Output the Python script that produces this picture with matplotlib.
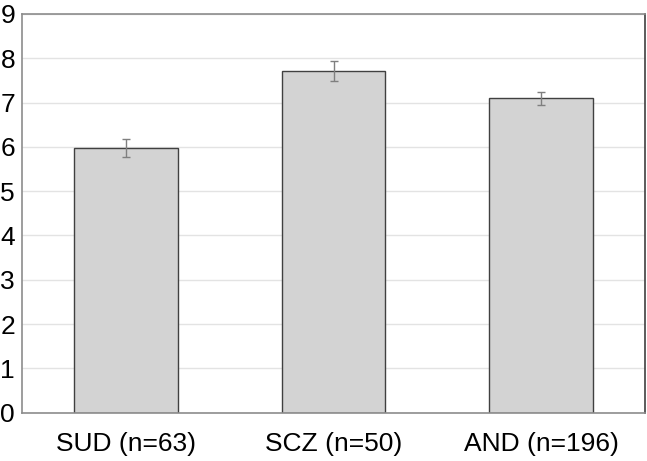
import matplotlib
matplotlib.use('Agg')
import matplotlib.pyplot as plt

# group labels, means and error half-widths
groups = ['SUD (n=63)', 'SCZ (n=50)', 'AND (n=196)']
means = [5.97, 7.72, 7.10]
errors = [0.20, 0.225, 0.15]

plt.rcParams['font.family'] = ['Liberation Sans', 'DejaVu Sans']

fig = plt.figure(figsize=(6.47, 4.61), dpi=100)
ax = fig.add_axes([22 / 647, 1 - 412.7 / 461, 623 / 647, 398.7 / 461])

xs = range(len(groups))
ax.bar(xs, means, width=0.5, color='#d3d3d3', edgecolor='#404040',
       linewidth=1.0, zorder=2)
ax.errorbar(xs, means, yerr=errors, fmt='none', ecolor='#7f7f7f',
            elinewidth=1.0, capsize=2.8, capthick=1.0, zorder=3)

ax.set_xlim(-0.5, 2.5)
ax.set_ylim(0, 9)
ax.set_yticks(range(10))
ax.set_xticks(list(xs))
ax.set_xticklabels(groups)
ax.yaxis.grid(True, color='#e3e3e3', linewidth=1.0, zorder=0)
ax.set_axisbelow(True)
ax.tick_params(axis='both', length=0, labelsize=19, colors='black')
ax.tick_params(axis='y', pad=5)
ax.tick_params(axis='x', pad=14)

for side in ['left', 'bottom', 'top']:
    ax.spines[side].set_color('#8c8c8c')
    ax.spines[side].set_linewidth(1.2)
ax.spines['right'].set_color('#404040')
ax.spines['right'].set_linewidth(1.2)

plt.savefig('out.png', dpi=100)
